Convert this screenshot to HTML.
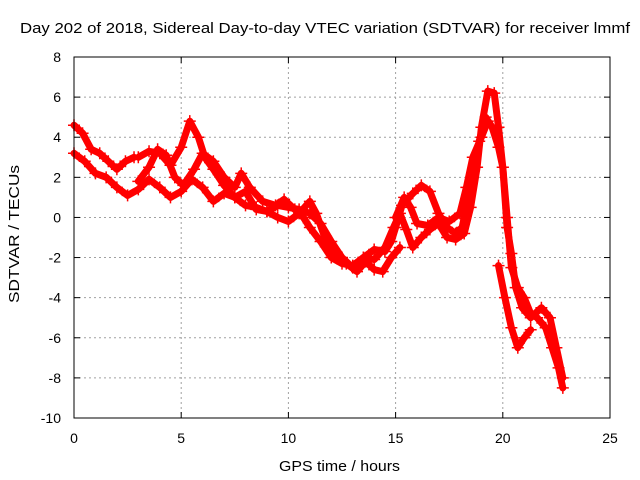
<!DOCTYPE html>
<html><head><meta charset="utf-8"><style>
html,body{margin:0;padding:0;background:#fff;}
svg{display:block;font-family:"Liberation Sans",sans-serif;}
</style></head><body>
<svg id="chart" width="640" height="480">
<text x="20" y="33" font-size="15" textLength="610" lengthAdjust="spacingAndGlyphs">Day 202 of 2018, Sidereal Day-to-day VTEC variation (SDTVAR) for receiver lmmf</text>
<text x="279" y="471" font-size="15" textLength="121" lengthAdjust="spacingAndGlyphs">GPS time / hours</text>
<text x="0" y="0" font-size="15" textLength="138" lengthAdjust="spacingAndGlyphs" transform="translate(19 303) rotate(-90)">SDTVAR / TECUs</text>
<g id="grid"></g><g id="axes"></g><g id="marks"></g>
<rect x="74" y="57" width="536" height="361" fill="none" stroke="#000" stroke-width="1"/>
</svg>
<script>
const xTicks=[0,5,10,15,20,25];
const yTicks=[8,6,4,2,0,-2,-4,-6,-8,-10];
const t1x=[0,0.4,0.8,1.2,1.6,2.0,2.4,2.8];
const t1y=[4.6,4.2,3.4,3.2,2.8,2.4,2.8,3.0];
const t2x=[0,0.5,1,1.5,2,2.5,3,3.5,4,4.5,5,5.5,6,6.5,7,7.5,8,8.5,9,9.5,10,10.5,11,11.3,11.7,12.2,12.7,13.2,13.6,14,14.4,14.8,15.2];
const t2y=[3.2,2.8,2.2,2.0,1.5,1.1,1.4,1.9,1.5,1.0,1.3,1.9,1.5,0.8,1.2,1.0,0.6,0.5,0.3,0.0,-0.2,0.2,0.8,0.2,-1,-1.8,-2.3,-2.7,-2.2,-2.6,-2.7,-2.0,-1.5];
const t3x=[3,3.5,4,4.5,5,5.4,5.8,6.1,6.5,7,7.5,8,8.5,9,9.5,10,10.5,11,11.5,12,12.5,13,13.5,14,14.5,14.8,15,15.3,15.8,16.2,16.6,17,17.4,17.8,18.1,18.3,18.6,18.9,19.2,19.5,19.8,20,20.2,20.4,20.7,21,21.3,21.6,22,22.3,22.6,22.8];
const t3y=[3,3.3,3.2,2.6,3.5,4.8,4.0,3.0,2.4,1.6,1.0,1.3,0.4,0.3,0.6,0.5,0.4,0.2,-0.3,-1.2,-2,-2.5,-2.0,-1.6,-1.7,-1.2,-0.5,0.6,1.2,1.6,1.3,0.2,-0.5,-0.8,-0.5,0.5,2.0,3.8,5.0,4.5,3.5,2.5,0,-2.5,-3.5,-4.0,-4.8,-5.0,-5.5,-6.5,-7.5,-8.5];
const t4x=[3,3.5,3.9,4.3,4.7,5.1,5.6,6,6.5,7,7.5,7.8,8.2,8.8,9.4,9.8,10.3,10.7,11,11.5,12,12.5,13,13.5,14,14.5,14.9,15.2,15.5,15.8,16.2,16.6,17,17.4,17.8,18.2,18.5,18.8,19.0,19.3,19.6,19.8,20,20.2,20.4,20.6,20.9,21.3,21.8,22.2,22.5,22.8];
const t4y=[1.8,2.5,3.4,3.1,2.0,1.6,2.4,3.2,2.8,2.0,1.5,2.2,1.5,0.8,0.6,0.9,0.4,0.0,-0.5,-1.2,-2,-2.3,-2.4,-2.0,-2.1,-1.5,-0.5,0.2,-0.6,-1.5,-1.0,-0.6,-0.3,-1.0,-1.1,-0.8,0.5,2.5,4.5,6.3,6.2,4.5,2.5,-0.5,-1.8,-3.5,-4.5,-5,-4.5,-5,-6.5,-8];
const t5x=[19.8,20.1,20.4,20.7,21.0,21.3];
const t5y=[-2.4,-4,-5.5,-6.5,-6.0,-5.6];
const t6x=[15,15.4,15.7,16,16.5,17,17.5,18,18.3,18.6,19,19.3];
const t6y=[0,1.0,0.5,-0.3,-0.4,0,-0.2,0.2,1.5,3.0,4.0,4.8];
const tracks=[[t1x,t1y],[t2x,t2y],[t3x,t3y],[t4x,t4y],[t5x,t5y],[t6x,t6y]];
const NS='http://www.w3.org/2000/svg';
const X=v=>74+v*(536/25);
const Y=v=>57+(8-v)*(361/18);
const grid=document.getElementById('grid'),axes=document.getElementById('axes'),marks=document.getElementById('marks');
function mk(tag,attrs,parent){const e=document.createElementNS(NS,tag);for(const k in attrs)e.setAttribute(k,attrs[k]);parent.appendChild(e);return e;}
xTicks.forEach(t=>{
  if(t>0&&t<25){const g=mk('line',{x1:X(t),x2:X(t),y1:57,y2:418,stroke:'#a0a0a0','stroke-dasharray':'2,3'},grid);
  }
  const l=mk('line',{x1:X(t),x2:X(t),y1:418,y2:412,stroke:'#000'},axes);
  
  const l2=mk('line',{x1:X(t),x2:X(t),y1:57,y2:63,stroke:'#000'},axes);
  
  const tx=mk('text',{x:X(t),y:443,'font-size':14,'text-anchor':'middle'},axes);tx.textContent=t;
  
});
yTicks.forEach(t=>{
  if(t>-10&&t<8){const g=mk('line',{x1:74,x2:610,y1:Y(t),y2:Y(t),stroke:'#a0a0a0','stroke-dasharray':'2,3'},grid);
  }
  const l=mk('line',{x1:74,x2:80,y1:Y(t),y2:Y(t),stroke:'#000'},axes);
  
  const l2=mk('line',{x1:604,x2:610,y1:Y(t),y2:Y(t),stroke:'#000'},axes);
  
  const tx=mk('text',{x:61,y:Y(t)+5,'font-size':14,'text-anchor':'end'},axes);tx.textContent=t;
  
});
tracks.forEach((tr,i)=>{
  const [xs,ys]=tr;
  const pts=xs.map((x,j)=>X(x).toFixed(1)+','+Y(ys[j]).toFixed(1)).join(' ');
  const pl=mk('polyline',{points:pts,fill:'none',stroke:'#ff0000','stroke-width':7,'stroke-linejoin':'round','stroke-linecap':'round'},marks);
  
  
  xs.forEach((x,j)=>{
    const cx=X(x),cy=Y(ys[j]);
    const p=mk('path',{d:`M${cx-6},${cy}H${cx+6}M${cx},${cy-6}V${cy+6}`,stroke:'#ff0000','stroke-width':1.5},marks);
    
    
  });
});
</script>
</body></html>
